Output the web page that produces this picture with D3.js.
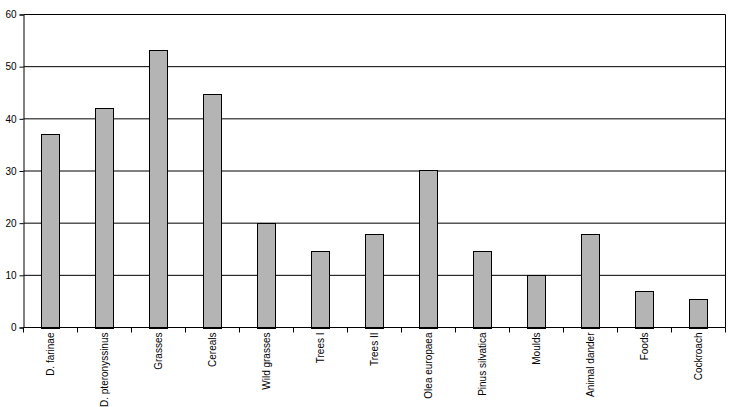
<!DOCTYPE html>
<html><head><meta charset="utf-8">
<script src="https://cdn.jsdelivr.net/npm/d3@7"></script>
<style>body{margin:0;background:#fff}svg{display:block}text{font-family:"Liberation Sans",Arial,sans-serif;font-size:10px;fill:#000}</style>
</head><body>
<script>
const categories = ["D. farinae","D. pteronyssinus","Grasses","Cereals","Wild grasses","Trees  I","Trees  II","Olea europaea","Pinus silvatica","Moulds","Animal dander","Foods","Cockroach"];
const values = [37.1,42.1,53.2,44.8,20,14.7,18,30.2,14.7,10,18,7,5.5];
const yTicks = [0,10,20,30,40,50,60];

const W=734,H=407;
const m={l:23.5,r:8.5,t:14.5,b:79.5};
const svg=d3.select("body").append("svg").attr("width",W).attr("height",H);
const x=d3.scaleBand().domain(categories).range([m.l,W-m.r]).padding(0);
const y=d3.scaleLinear().domain([0,60]).range([H-m.b,m.t]);

// gridlines
svg.append("g").selectAll("line").data(yTicks.slice(1)).join("line")
  .attr("x1",m.l).attr("x2",W-m.r).attr("y1",d=>y(d)).attr("y2",d=>y(d))
  .attr("stroke","#000").attr("stroke-width",1);
// right border
svg.append("line").attr("x1",W-m.r).attr("x2",W-m.r).attr("y1",m.t).attr("y2",H-m.b).attr("stroke","#000");

// bars
const bw=x.bandwidth()/3;
svg.append("g").selectAll("rect").data(values).join("rect")
  .attr("x",(d,i)=>Math.floor(x(categories[i])+x.bandwidth()/2-bw/2)+0.5)
  .attr("y",d=>Math.round(y(d))+0.5)
  .attr("width",Math.round(bw))
  .attr("height",d=>Math.round(y(0))-Math.round(y(d)))
  .attr("fill","#b4b4b4").attr("stroke","#000").attr("stroke-width",1);

// y axis
const ya=svg.append("g").attr("transform",`translate(${m.l},0)`)
  .call(d3.axisLeft(y).tickValues(yTicks).tickSize(4).tickPadding(3).tickFormat(d3.format("d")));
ya.select(".domain").attr("stroke","#000");
ya.selectAll("text").style("font-size","10px").attr("fill","#444");

// x axis: ticks at category boundaries
const xg=svg.append("g").attr("transform",`translate(0,${y(0)})`);
xg.append("line").attr("x1",m.l).attr("x2",W-m.r).attr("stroke","#000");
const bounds=categories.map(c=>x(c)).concat([x(categories[categories.length-1])+x.bandwidth()]);
xg.selectAll("line.t").data(bounds).join("line").attr("class","t")
  .attr("x1",d=>d).attr("x2",d=>d).attr("y1",0).attr("y2",5).attr("stroke","#000");
xg.selectAll("text").data(categories).join("text")
  .attr("transform",d=>`translate(${x(d)+x.bandwidth()/2+3.5},5) rotate(-90)`)
  .attr("text-anchor","end").attr("fill","#222")
  .text(d=>d);
</script>
</body></html>
